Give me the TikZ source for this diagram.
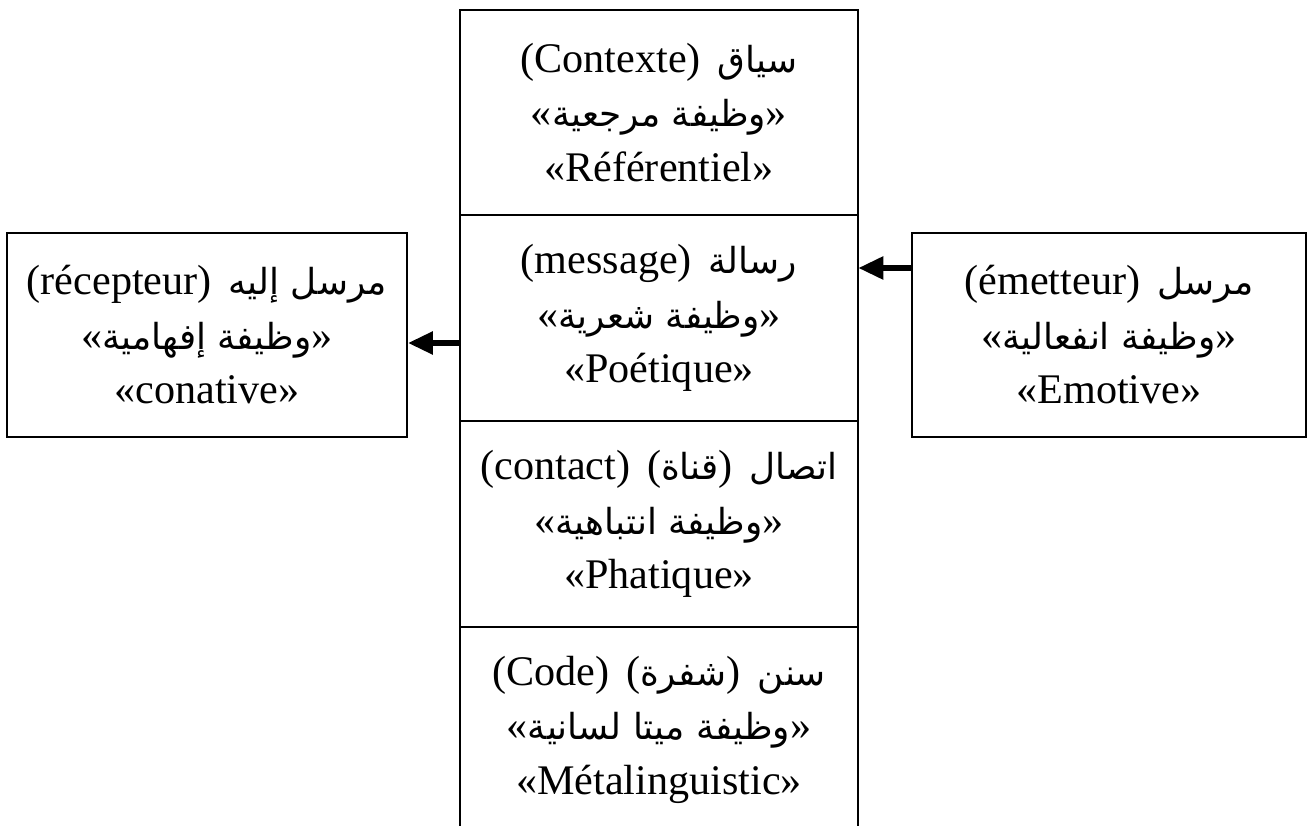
\documentclass[tikz,border=0pt]{standalone}
\usepackage{fontspec}
\setmainfont{Liberation Serif}
\newfontfamily\arabicfont[Script=Arabic, Scale=0.85]{DejaVu Sans}
\TeXXeTstate=1
\usetikzlibrary{positioning, arrows.meta}

\newcommand{\artxt}[1]{{\arabicfont\beginR #1\endR}}

\tikzset{
  cell/.style={minimum width=7.96cm, minimum height=4.1cm, inner sep=0pt, align=center, font=\fontsize{24}{31}\selectfont},
  sidebox/.style={draw, line width=1.1pt, minimum height=4.08cm, inner sep=0pt, align=center, font=\fontsize{24}{31}\selectfont},
  boxline/.style={line width=1.1pt},
  fleche/.style={line width=3.2pt, -{Triangle[length=0.5cm, width=0.44cm]}}
}

\begin{document}
\begin{tikzpicture}
    \useasboundingbox (0,0) rectangle (26.18,16.5);

    % Colonne centrale
    \node[cell] (contexte) at (13.18,14.25) {(Contexte)\hspace{0.4em}\artxt{سياق}\\«\artxt{وظيفة مرجعية}»\\«Référentiel»};
    \node[cell, below=0pt of contexte] (message) {(message)\hspace{0.4em}\artxt{رسالة}\\«\artxt{وظيفة شعرية}»\\«Poétique»};
    \node[cell, below=0pt of message] (contact) {(contact)\hspace{0.4em}(\artxt{قناة})\hspace{0.4em}\artxt{اتصال}\\«\artxt{وظيفة انتباهية}»\\«Phatique»};
    \node[cell, below=0pt of contact] (code) {(Code)\hspace{0.4em}(\artxt{شفرة})\hspace{0.4em}\artxt{سنن}\\«\artxt{وظيفة ميتا لسانية}»\\«Métalinguistic»};

    \draw[boxline] (code.south west) -- (contexte.north west) -- (contexte.north east) -- (code.south east);
    \draw[boxline] (contexte.south west) -- (contexte.south east);
    \draw[boxline] (message.south west) -- (message.south east);
    \draw[boxline] (contact.south west) -- (contact.south east);

    % Recepteur
    \node[sidebox, minimum width=8.0cm] (recepteur) at (4.14,9.8) {(récepteur)\hspace{0.4em}\artxt{مرسل إليه}\\«\artxt{وظيفة إفهامية}»\\«conative»};

    % Emetteur
    \node[sidebox, minimum width=7.88cm] (emetteur) at (22.18,9.8) {(émetteur)\hspace{0.4em}\artxt{مرسل}\\«\artxt{وظيفة انفعالية}»\\«Emotive»};

    \draw[fleche] (message.west |- 0,9.64) -- (recepteur.east |- 0,9.64);
    \draw[fleche] (emetteur.west |- 0,11.14) -- (message.east |- 0,11.14);
\end{tikzpicture}
\end{document}
